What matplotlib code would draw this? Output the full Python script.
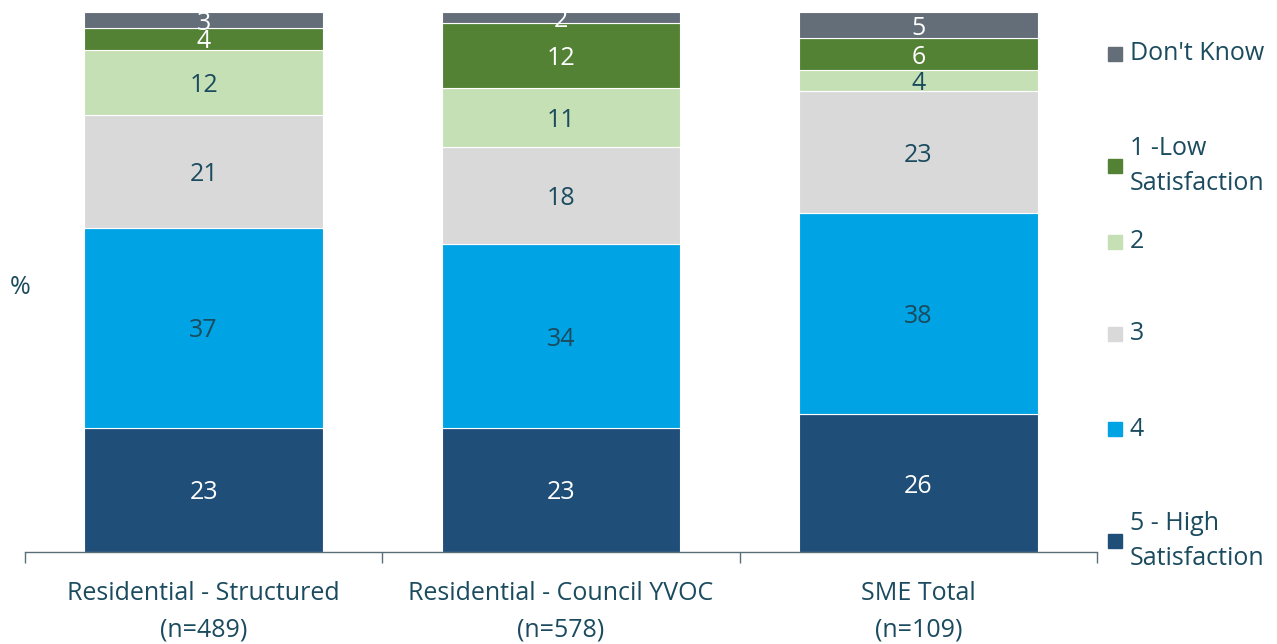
import matplotlib
matplotlib.use("Agg")
import matplotlib.pyplot as plt
from matplotlib.patches import Rectangle
import numpy as np

# Dane
categories = ["Residential - Structured\n(n=489)",
              "Residential - Council YVOC\n(n=578)",
              "SME Total\n(n=109)"]
series = ["5 - High\nSatisfaction", "4", "3", "2", "1 -Low\nSatisfaction", "Don't Know"]
values = {
    "5 - High\nSatisfaction": [23, 23, 26],
    "4": [37, 34, 38],
    "3": [21, 18, 23],
    "2": [12, 11, 4],
    "1 -Low\nSatisfaction": [4, 12, 6],
    "Don't Know": [3, 2, 5],
}
colors = ["#1F4E79", "#00A3E3", "#D9D9D9", "#C5E0B4", "#548235", "#646E78"]
label_colors = ["white", "#1B4B5E", "#1B4B5E", "#1B4B5E", "white", "white"]
TEXT = "#1B4B5E"
FS = 18

plt.rcParams['font.family'] = ['Open Sans', 'DejaVu Sans']

fig = plt.figure(figsize=(12.77, 6.44), dpi=100)
ax = fig.add_axes([25 / 1277, 92 / 644, 1072 / 1277, 540 / 644])

x = np.arange(len(categories))
data = np.array([values[s] for s in series], dtype=float)
totals = data.sum(axis=0)
shares = data / totals * 100  # wykres 100% skumulowany
bottom = np.zeros(len(categories))
for i, s in enumerate(series):
    ax.bar(x, shares[i], bottom=bottom, width=0.667, color=colors[i],
           edgecolor="white", linewidth=0.8)
    for j in range(len(categories)):
        ax.text(x[j], bottom[j] + shares[i][j] / 2, f"{int(data[i][j])}",
                ha="center", va="center_baseline", fontsize=FS, color=label_colors[i])
    bottom += shares[i]

ax.set_xlim(-0.5, len(categories) - 0.5)
ax.set_ylim(0, 100)
ax.set_yticks([])
for side in ["left", "right", "top"]:
    ax.spines[side].set_visible(False)
ax.spines["bottom"].set_color("#5A6E78")
ax.spines["bottom"].set_linewidth(1.0)
ax.set_xticks(np.arange(-0.5, len(categories)), minor=False)
ax.set_xticklabels([])
ax.tick_params(axis="x", which="major", length=8, color="#5A6E78", width=1.0)
ax.set_xticks(x, minor=True)
ax.set_xticklabels(categories, minor=True, fontsize=FS, color=TEXT, linespacing=1.6)
ax.tick_params(axis="x", which="minor", length=0, pad=21)

fig.text(20 / 1277, 1 - 287 / 644, "%", fontsize=FS, color=TEXT, ha="center", va="center")

# Legenda
leg_y = [54, 166, 242, 334, 429, 541]
for (s, c, yy) in zip(series[::-1], colors[::-1], leg_y):
    fig.patches.append(Rectangle((1108 / 1277, 1 - (yy + 7) / 644), 14 / 1277, 14 / 644,
                                 transform=fig.transFigure, color=c))
    fig.text(1130 / 1277, 1 - yy / 644, s, fontsize=FS, color=TEXT,
             ha="left", va="center", linespacing=1.5)

fig.savefig("out.png", dpi=100)
